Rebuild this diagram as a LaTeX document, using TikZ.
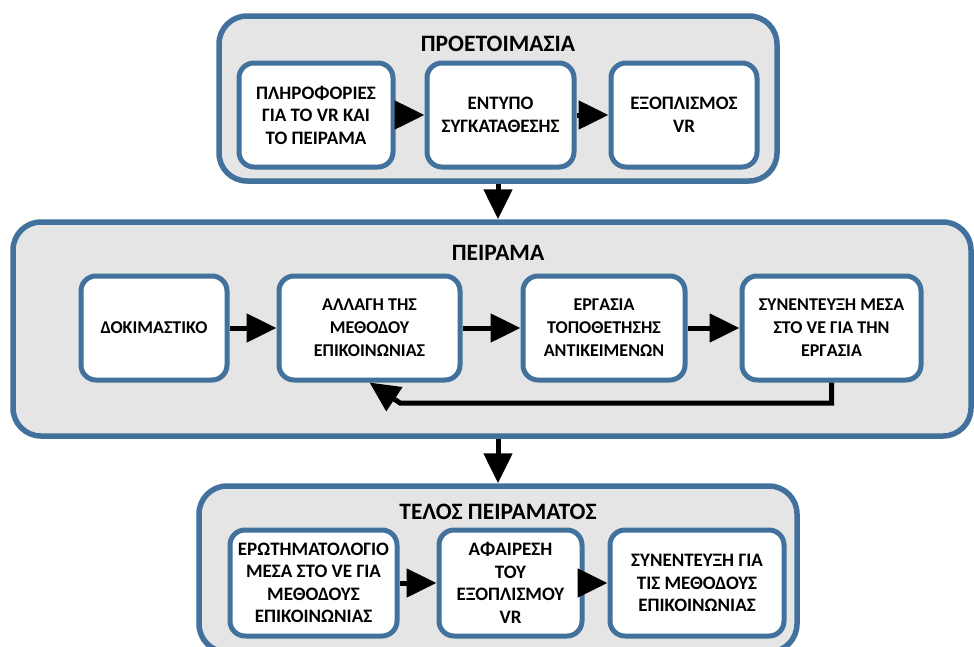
\documentclass[tikz,border=0pt]{standalone}
\usepackage{fontspec}
\setmainfont{Carlito}
\usetikzlibrary{arrows.meta}
\definecolor{edgeblue}{RGB}{65,113,156}
\colorlet{panelgray}{black!10}

\begin{document}
\begin{tikzpicture}[
        x=1pt, y=-1pt,
        panel/.style={draw=edgeblue, fill=panelgray, line width=5.5pt, rounded corners=28pt, inner sep=0pt},
        card/.style={draw=edgeblue, fill=white, line width=5pt, rounded corners=15pt, inner sep=0pt,
            align=center, font=\fontsize{18}{23}\selectfont\bfseries},
        bigcard/.style={card, font=\fontsize{19}{22.5}\selectfont\bfseries},
        heading/.style={font=\fontsize{23.5}{27}\selectfont\bfseries},
        flow/.style={line width=5pt, -{Triangle[length=30pt,width=28pt]}}
    ]
        \useasboundingbox (0,0) rectangle (974,646);
        \clip (0,0) rectangle (974,646);

        \node [panel, minimum width=558pt, minimum height=165pt] (prep) at (498,98.5) {};
        \node [panel, minimum width=958pt, minimum height=214pt] (exp) at (492,329) {};
        \node [panel, minimum width=598pt, minimum height=166pt] (fin) at (498,569) {};

        \node [heading] (prep-title) at (498,44) {ΠΡΟΕΤΟΙΜΑΣΙΑ};
        \node [heading] (exp-title) at (498,253) {ΠΕΙΡΑΜΑ};
        \node [heading] (fin-title) at (498,512) {ΤΕΛΟΣ ΠΕΙΡΑΜΑΤΟΣ};

        \node [bigcard, minimum width=154pt, minimum height=104pt] (p1) at (316,115) {ΠΛΗΡΟΦΟΡΙΕΣ\\ΓΙΑ ΤΟ VR ΚΑΙ\\ΤΟ ΠΕΙΡΑΜΑ};
        \node [bigcard, minimum width=147pt, minimum height=104pt] (p2) at (500.5,115) {ΕΝΤΥΠΟ\\ΣΥΓΚΑΤΑΘΕΣΗΣ};
        \node [bigcard, minimum width=146pt, minimum height=104pt] (p3) at (684,115) {ΕΞΟΠΛΙΣΜΟΣ\\VR};

        \node [card, minimum width=146pt, minimum height=104pt] (m1) at (154,328) {ΔΟΚΙΜΑΣΤΙΚΟ};
        \node [card, minimum width=181pt, minimum height=104pt] (m2) at (369.5,328) {ΑΛΛΑΓΗ ΤΗΣ\\ΜΕΘΟΔΟΥ\\ΕΠΙΚΟΙΝΩΝΙΑΣ};
        \node [card, minimum width=162pt, minimum height=104pt] (m3) at (604,328) {ΕΡΓΑΣΙΑ\\ΤΟΠΟΘΕΤΗΣΗΣ\\ΑΝΤΙΚΕΙΜΕΝΩΝ};
        \node [card, minimum width=179pt, minimum height=104pt] (m4) at (831.5,328) {ΣΥΝΕΝΤΕΥΞΗ ΜΕΣΑ\\ΣΤΟ VE ΓΙΑ ΤΗΝ\\ΕΡΓΑΣΙΑ};

        \node [bigcard, minimum width=167pt, minimum height=106pt] (f1) at (313.5,583) {ΕΡΩΤΗΜΑΤΟΛΟΓΙΟ\\ΜΕΣΑ ΣΤΟ VE ΓΙΑ\\ΜΕΘΟΔΟΥΣ\\ΕΠΙΚΟΙΝΩΝΙΑΣ};
        \node [bigcard, minimum width=143pt, minimum height=106pt] (f2) at (510.5,583) {ΑΦΑΙΡΕΣΗ\\ΤΟΥ\\ΕΞΟΠΛΙΣΜΟΥ\\VR};
        \node [bigcard, minimum width=174pt, minimum height=106pt] (f3) at (697,583) {ΣΥΝΕΝΤΕΥΞΗ ΓΙΑ\\ΤΙΣ ΜΕΘΟΔΟΥΣ\\ΕΠΙΚΟΙΝΩΝΙΑΣ};

        \foreach \a/\b in {p1/p2,p2/p3,m1/m2,m2/m3,m3/m4,f1/f2,f2/f3} {
            \draw [flow] (\a) -- (\b);
        }

        \draw [flow] (prep.south) -- (prep.south |- exp.north);
        \draw [flow] (fin.north |- exp.south) -- (fin.north);

        \coordinate (fb) at (400,403);
        \draw [flow] (m4.south) |- (fb) -- (m2.south);
    \end{tikzpicture}
\end{document}
